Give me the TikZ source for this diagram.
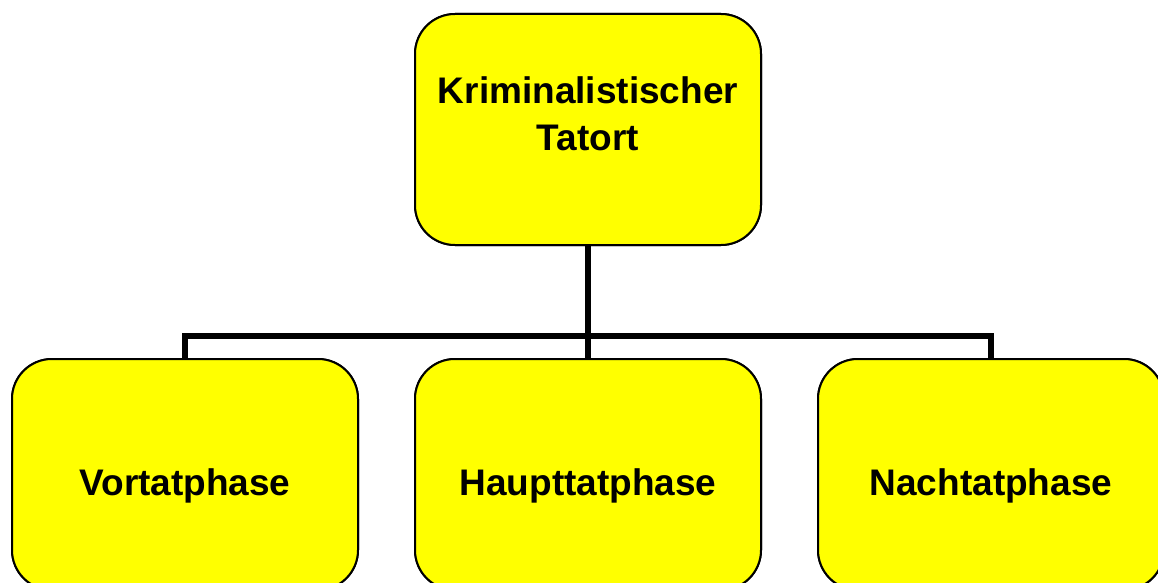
\documentclass[tikz,border=0pt]{standalone}
\usepackage{fontspec}
\setmainfont{Liberation Sans}
\definecolor{boxyellow}{RGB}{255,255,0}
\begin{document}
\begin{tikzpicture}[x=1pt,y=-1pt,
  phasebox/.style={draw=black, line width=2pt, fill=boxyellow, rounded corners=40pt,
    minimum width=346pt, minimum height=231pt, inner sep=0pt, outer sep=0pt},
  boxtext/.style={font=\fontsize{37}{47}\selectfont\bfseries, inner sep=0pt, anchor=base},
  link/.style={line width=5.5pt}]
  \useasboundingbox (0,0) rectangle (1158,583);
  \fill[white] (0,0) rectangle (1158,583);

  % tree lines
  \coordinate (bar) at (588,336);
  \node[phasebox] (root) at (588,129.5) {};
  \node[phasebox] (vor) at (185,474.5) {};
  \node[phasebox] (haupt) at (588,474.5) {};
  \node[phasebox] (nach) at (991,474.5) {};

  \draw[link] (root.south) -- (bar);
  \draw[link] (vor.north) |- (bar) -| (nach.north);
  \draw[link] (bar) -- (haupt.north);

  % redraw boxes over line ends
  \node[phasebox] at (root) {};
  \node[phasebox] at (vor) {};
  \node[phasebox] at (haupt) {};
  \node[phasebox] at (nach) {};

  \node[boxtext] (rootA) at (588,103) {Kriminalistischer};
  \node[boxtext] (rootB) at (588,150) {Tatort};
  \node[boxtext] (vorT) at (185,495) {Vortatphase};
  \node[boxtext] (hauptT) at (588,495) {Haupttatphase};
  \node[boxtext] (nachT) at (991,495) {Nachtatphase};
\end{tikzpicture}
\end{document}
